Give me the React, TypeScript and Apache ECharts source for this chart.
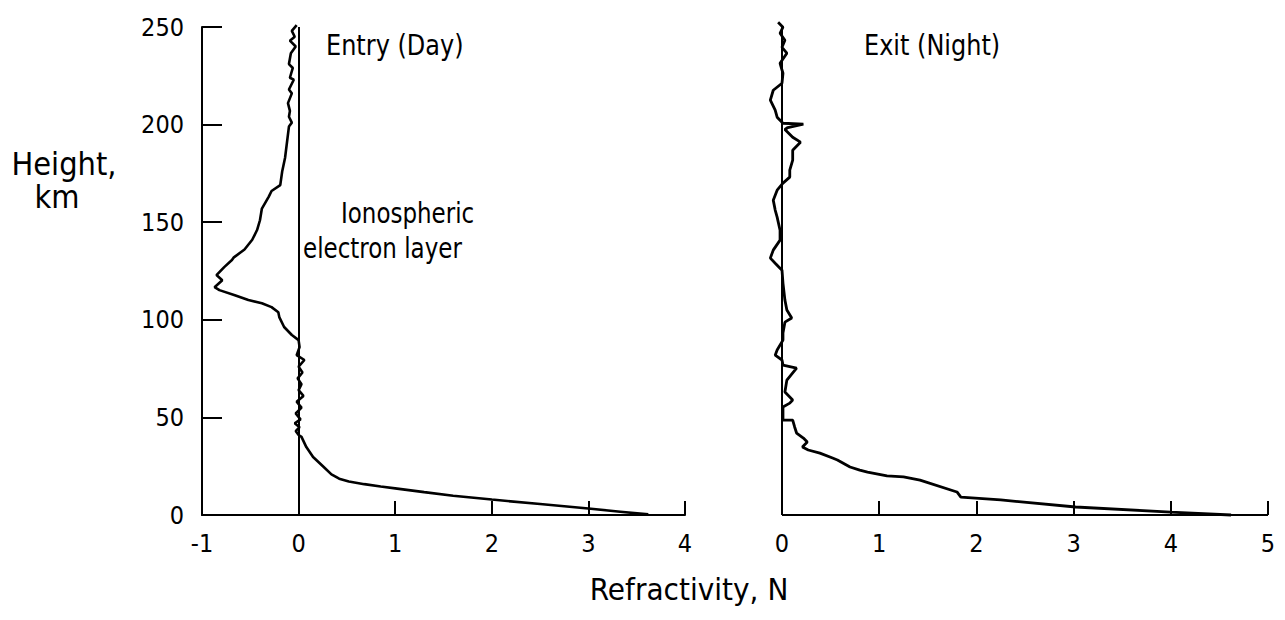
import React, { useEffect, useRef } from "react";
import * as echarts from "echarts";

// Entry (Day) profile: refractivity N vs height (km)
const entryN = [
  -0.02, -0.07, -0.04, -0.09, -0.03, -0.08, -0.1, -0.06, -0.09, -0.05, -0.1, -0.07, -0.11, -0.09,
  -0.1, -0.07, -0.1, -0.14, -0.17, -0.19, -0.28, -0.31, -0.38, -0.4, -0.43, -0.48, -0.56,
  -0.67, -0.69, -0.77, -0.85, -0.79, -0.87, -0.82, -0.66, -0.52, -0.38, -0.28, -0.21, -0.2,
  -0.15, -0.07, 0.0, 0.01, -0.02, 0.06, 0.0, 0.04, -0.01, 0.03, 0.0, 0.05, -0.02, 0.03,
  -0.03, 0.02, -0.04, 0.01, -0.03, 0.0, 0.03, 0.08, 0.15, 0.26, 0.34, 0.42, 0.52, 0.68, 0.85,
  1.02, 1.3, 1.6, 2.0, 2.5, 3.0, 3.33, 3.62,
];
const entryHeight = [
  251, 248, 245, 243, 240, 236.5, 231, 229, 224, 223, 218, 216, 211, 207,
  204, 201, 199, 183, 176, 169, 166, 163, 157, 151, 146, 141, 136,
  132, 130.6, 127, 122.9, 120.3, 116.7, 115.2, 112.6, 110.1, 108.5, 106.5, 103.9, 101.4,
  96.3, 92.2, 89.6, 86, 81.9, 79.4, 76, 73, 70, 67, 64, 61, 58, 55,
  52, 49, 47, 45, 43, 41, 40, 34.8, 29.7, 24.6, 20.8, 18.6, 17.2, 15.8, 14.6,
  13.5, 11.7, 9.9, 7.9, 5.6, 3.3, 1.7, 0.3,
];

// Exit (Night) profile
const exitN = [
  -0.04, 0.01, -0.02, 0.03, 0.0, 0.05, -0.02, 0.01, 0.0, -0.09, -0.12, -0.07, -0.05, 0.01,
  0.22, 0.06, 0.03, 0.11, 0.19, 0.11, 0.11, 0.08, 0.08, 0.01, -0.05, -0.09, -0.07, -0.05,
  -0.02, -0.02, -0.09, -0.12, -0.07, 0.0, 0.01, 0.03, 0.05, 0.1, 0.03, 0.01, 0.01, -0.05,
  -0.07, 0.0, 0.01, 0.15, 0.05, 0.03, 0.11, 0.08, 0.01, 0.01, 0.11, 0.13, 0.15, 0.22, 0.26,
  0.21, 0.27, 0.39, 0.52, 0.57, 0.7, 0.8, 0.88, 1.08, 1.25, 1.42, 1.8, 1.84, 2.25, 3.02,
  4.0, 4.62,
];
const exitHeight = [
  252.4, 249.9, 246.8, 243.2, 239.6, 236.6, 231.4, 226.3, 221.2, 217.6, 212.5, 207.4, 203.8, 200.7,
  200.2, 198.5, 197.5, 193.5, 191, 186.9, 181.8, 176.7, 173.1, 170, 166.4, 161.3, 156.2, 152.6,
  145.9, 140.8, 135.7, 131.6, 129, 125.4, 118.8, 110.1, 105, 100.9, 98.8, 93.2, 89.6, 84.5,
  81.9, 79.4, 76.8, 75.3, 69.1, 63, 58.9, 57.3, 55.3, 48.6, 48.6, 45.1, 42, 39.4, 37.4,
  34.8, 33.3, 31.7, 29.2, 28.2, 24.6, 23, 22, 20, 19.5, 17.9, 11.8, 9.2, 7.7, 4.1,
  1.5, 0,
];

const heightTicks = { min: 0, max: 250, interval: 50 };
const entryRange = { min: -1, max: 4 };
const exitTicks = [0, 1, 2, 3, 4, 5];
// the exit axis is extended a little below 0 so the curve's small negative wiggles stay visible
const exitRange = { min: -0.3, max: 5 };

const FONT = "'Liberation Sans Narrow', 'DejaVu Sans Condensed', 'DejaVu Sans', sans-serif";
const TFONT = "'DejaVu Sans', 'Liberation Sans', sans-serif";

export default function App() {
  const ref = useRef<HTMLDivElement>(null);
  useEffect(() => {
    if (!ref.current) return;
    const chart = echarts.init(ref.current, undefined, { renderer: "svg" });
    const entryData = entryN.map((n, i) => [n, entryHeight[i]]);
    const exitData = exitN.map((n, i) => [n, exitHeight[i]]);
    const black = "#000";
    const lbl = { color: black, fontSize: 25, fontFamily: FONT, margin: 16 };
    const tick = { show: true, inside: true, length: 14, lineStyle: { color: black, width: 2 } };
    const txt = (text: string, x: number, y: number, size = 24, align = "left", sy = 1.2) => ({
      type: "text",
      x,
      y,
      scaleY: sy,
      style: {
        text,
        fill: black,
        fontSize: size,
        fontFamily: TFONT,
        align,
        textAlign: align,
        verticalAlign: "middle",
        textVerticalAlign: "middle",
      },
    });
    const pxPerUnit = 486 / 5;
    const exitLeft = 782 + exitRange.min * pxPerUnit;
    chart.setOption({
      animation: false,
      backgroundColor: "#fff",
      grid: [
        { left: 202, top: 27, width: 483, height: 488 },
        { left: exitLeft, top: 27, width: 1268 - exitLeft, height: 488 },
      ],
      xAxis: [
        {
          type: "value",
          gridIndex: 0,
          ...entryRange,
          interval: 1,
          axisLine: { show: true, onZero: false, lineStyle: { color: black, width: 2 } },
          axisTick: tick,
          axisLabel: lbl,
          splitLine: { show: false },
        },
        {
          type: "value",
          gridIndex: 1,
          ...exitRange,
          axisLine: { show: false },
          axisTick: { ...tick, customValues: exitTicks },
          axisLabel: { ...lbl, customValues: exitTicks },
          splitLine: { show: false },
        },
      ],
      yAxis: [
        {
          type: "value",
          gridIndex: 0,
          ...heightTicks,
          axisLine: { show: true, onZero: false, lineStyle: { color: black, width: 2 } },
          axisTick: { show: true, inside: true, length: 20, lineStyle: { color: black, width: 2 } },
          axisLabel: { ...lbl, margin: 18 },
          splitLine: { show: false },
        },
        {
          type: "value",
          gridIndex: 1,
          ...heightTicks,
          axisLine: { show: false },
          axisTick: { show: false },
          axisLabel: { show: false },
          splitLine: { show: false },
        },
      ],
      series: [
        {
          type: "line",
          name: "Entry (Day)",
          xAxisIndex: 0,
          yAxisIndex: 0,
          data: entryData,
          showSymbol: false,
          symbol: "none",
          clip: false,
          lineStyle: { color: black, width: 2.6 },
          markLine: {
            silent: true,
            symbol: "none",
            label: { show: false },
            lineStyle: { color: black, width: 2, type: "solid" },
            data: [{ xAxis: 0 }],
          },
        },
        {
          type: "line",
          name: "Exit (Night)",
          xAxisIndex: 1,
          yAxisIndex: 1,
          data: exitData,
          showSymbol: false,
          symbol: "none",
          clip: false,
          lineStyle: { color: black, width: 2.8 },
          markLine: {
            silent: true,
            symbol: "none",
            label: { show: false },
            lineStyle: { color: black, width: 2, type: "solid" },
            data: [
              { xAxis: 0 },
              [
                { coord: [exitRange.min < 0 ? 0 : exitRange.min, 0] },
                { coord: [exitRange.max, 0] },
              ],
            ],
          },
        },
      ],
      graphic: [
        txt("Height,", 64, 164, 29, "center", 1.1),
        txt("km", 57, 197, 29, "center", 1.1),
        txt("Entry (Day)", 326, 45),
        txt("Exit (Night)", 864, 45),
        txt("Ionospheric", 341, 213, 23, "left"),
        txt("electron layer", 303, 248, 23, "left"),
        txt("Refractivity, N", 689, 590, 28, "center", 1.1),
      ],
    });
    return () => chart.dispose();
  }, []);
  return (
    <div
      ref={ref}
      style={{ position: "fixed", left: 0, top: 0, width: 1285, height: 620, background: "#fff" }}
    />
  );
}
